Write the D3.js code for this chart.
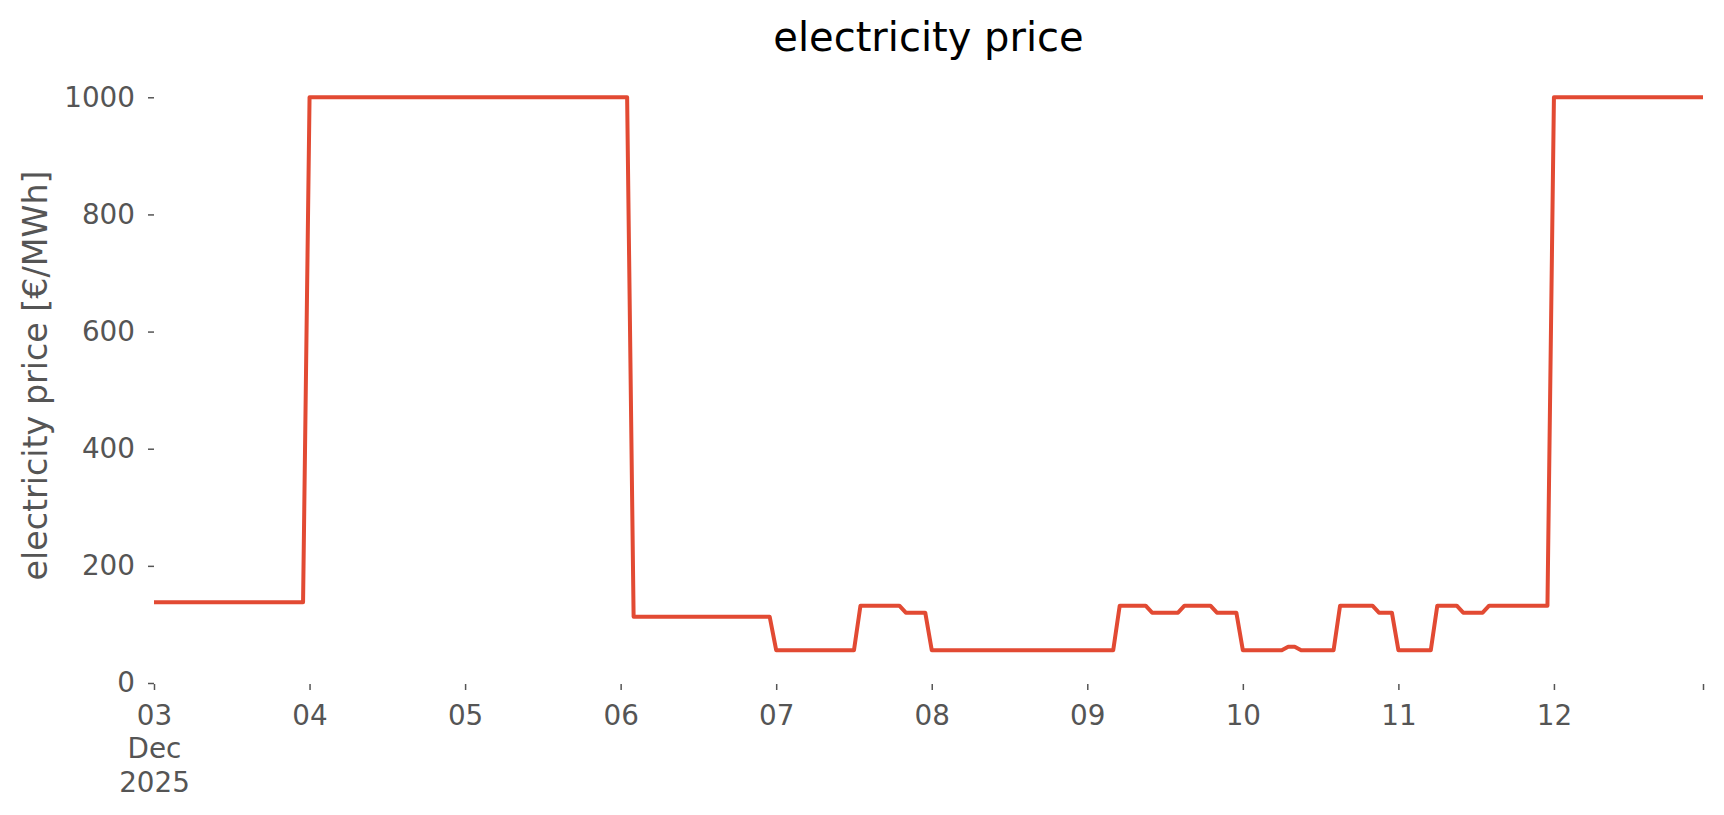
<!DOCTYPE html>
<html>
<head>
<meta charset="utf-8">
<script src="https://cdn.jsdelivr.net/npm/d3@7"></script>
<style>
	body { margin: 0; background: #fff; }
	text { font-family: 'DejaVu Sans', sans-serif; }
</style>
</head>
<body>
<div id="graphic"></div>
<script>
// hourly price runs: each run holds one price from start to end (UTC hours)
const runStarts = ['2025-12-03T00', '2025-12-04T00', '2025-12-06T02', '2025-12-07T00', '2025-12-07T13',
	'2025-12-07T20', '2025-12-08T00', '2025-12-09T05', '2025-12-09T10', '2025-12-09T15', '2025-12-09T20',
	'2025-12-10T00', '2025-12-10T07', '2025-12-10T09', '2025-12-10T15', '2025-12-10T21', '2025-12-11T00',
	'2025-12-11T06', '2025-12-11T10', '2025-12-11T14', '2025-12-12T00'];
const runEnds = ['2025-12-03T23', '2025-12-06T01', '2025-12-06T23', '2025-12-07T12', '2025-12-07T19',
	'2025-12-07T23', '2025-12-09T04', '2025-12-09T09', '2025-12-09T14', '2025-12-09T19', '2025-12-09T23',
	'2025-12-10T06', '2025-12-10T08', '2025-12-10T14', '2025-12-10T20', '2025-12-10T23', '2025-12-11T05',
	'2025-12-11T09', '2025-12-11T13', '2025-12-11T23', '2025-12-12T23'];
const runPrices = [138, 1000, 113, 56, 132, 120, 56, 132, 120, 132, 120, 56, 62, 56, 132, 120, 56, 132, 120, 132, 1000];

const yTicks = [0, 200, 400, 600, 800, 1000];
const dayTicks = ['2025-12-03', '2025-12-04', '2025-12-05', '2025-12-06', '2025-12-07',
	'2025-12-08', '2025-12-09', '2025-12-10', '2025-12-11', '2025-12-12'];

const titleText = 'electricity price';
const yLabelText = 'electricity price [€/MWh]';

const width = 1724, height = 815;
const margin = { top: 68, right: 21, bottom: 132, left: 154 };
const chart_width = width - margin.left - margin.right;
const chart_height = height - margin.top - margin.bottom;

const parseHour = d3.utcParse('%Y-%m-%dT%H');
const parseDay = d3.utcParse('%Y-%m-%d');

// line points: start and end of every run
let points = [];
runStarts.forEach((s, i) => {
	points.push({ date: parseHour(s), value: runPrices[i] });
	points.push({ date: parseHour(runEnds[i]), value: runPrices[i] });
});

const x = d3.scaleUtc()
	.domain(d3.extent(points, d => d.date))
	.range([0, chart_width]);

const y = d3.scaleLinear()
	.domain([0, 1050])
	.range([chart_height, 0]);

let svg = d3.select('#graphic')
	.append('svg')
	.attr('width', width)
	.attr('height', height)
	.style('background-color', '#fff')
	.append('g')
	.attr('transform', 'translate(' + margin.left + ',' + margin.top + ')');

//y axis
let yAxis = d3.axisLeft(y)
	.tickValues(yTicks)
	.tickSize(6)
	.tickPadding(13)
	.tickFormat(d3.format('d'));

svg.append('g')
	.attr('class', 'y axis')
	.call(yAxis)
	.call(g => g.select('.domain').remove())
	.call(g => g.selectAll('line').attr('stroke', '#555').attr('stroke-width', 1.5))
	.call(g => g.selectAll('text')
		.attr('fill', '#555')
		.style('font-size', '27.8px'));

//x axis - day ticks, first one gets month and year too
let xTickValues = dayTicks.map(parseDay).concat([x.domain()[1]]);

let xAxis = d3.axisBottom(x)
	.tickValues(xTickValues)
	.tickSize(6)
	.tickPadding(10)
	.tickFormat(d => '');

let xg = svg.append('g')
	.attr('class', 'x axis')
	.attr('transform', 'translate(0,' + (chart_height + 1) + ')')
	.call(xAxis);
xg.select('.domain').remove();
xg.selectAll('line').attr('stroke', '#555').attr('stroke-width', 1.5);

xg.selectAll('.tick').each(function (d, i) {
	if (i >= dayTicks.length) return;
	let t = d3.select(this).select('text')
		.attr('fill', '#555')
		.attr('y', 0)
		.attr('dy', null)
		.style('font-size', '27.8px');
	let lines = i === 0 ? [d3.utcFormat('%d')(d), d3.utcFormat('%b')(d), d3.utcFormat('%Y')(d)] : [d3.utcFormat('%d')(d)];
	lines.forEach((l, j) => {
		t.append('tspan')
			.attr('x', 0)
			.attr('y', 41 + j * 33.4)
			.text(l);
	});
});

//line
svg.append('path')
	.datum(points)
	.attr('fill', 'none')
	.attr('stroke', '#E24A33')
	.attr('stroke-width', 4)
	.attr('stroke-linejoin', 'round')
	.attr('d', d3.line().x(d => x(d.date)).y(d => y(d.value)));

//title
svg.append('text')
	.attr('x', chart_width / 2)
	.attr('y', 51 - margin.top)
	.attr('text-anchor', 'middle')
	.attr('fill', '#000')
	.style('font-size', '40px')
	.text(titleText);

//y axis label
svg.append('text')
	.attr('transform', 'translate(' + (47 - margin.left) + ',' + (chart_height / 2) + ') rotate(-90)')
	.attr('text-anchor', 'middle')
	.attr('fill', '#555')
	.style('font-size', '33.3px')
	.text(yLabelText);
</script>
</body>
</html>
